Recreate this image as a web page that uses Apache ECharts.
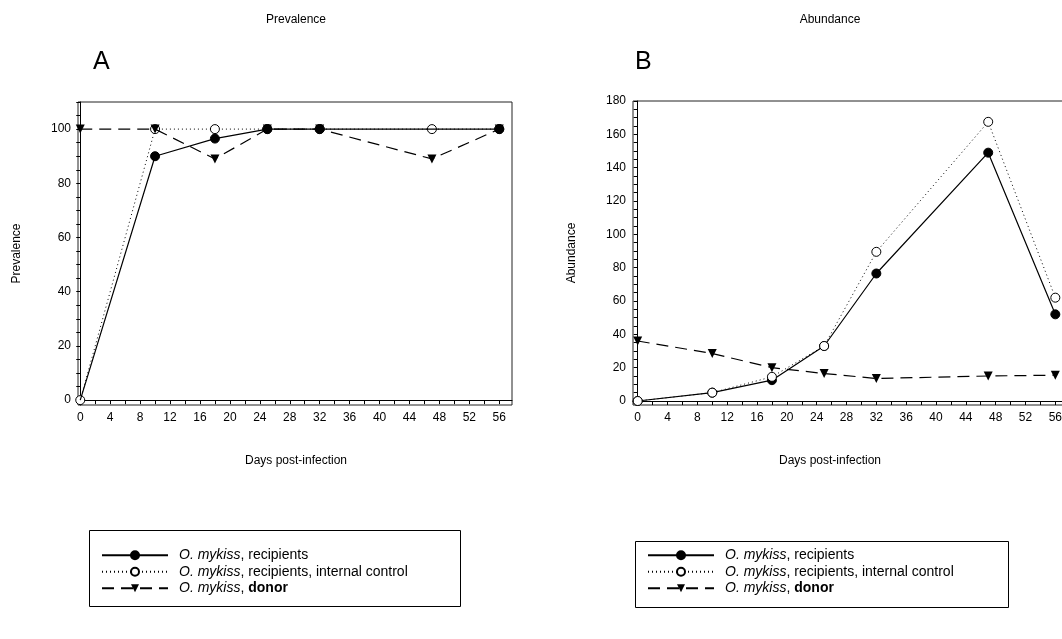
<!DOCTYPE html>
<html>
<head>
<meta charset="utf-8">
<script src="https://cdn.jsdelivr.net/npm/echarts@6/dist/echarts.min.js"></script>
<style>
  html, body { margin: 0; background: #fff; }
  #main { width: 1062px; height: 639px; }
</style>
</head>
<body>
<div id="main"></div>
<script>
// sampling days (post-infection)
var days = [0, 10, 18, 25, 32, 47, 56];

// A - prevalence (%)
var prevRecipients = [0, 90, 96.5, 100, 100, 100, 100];
var prevControl    = [0, 100, 100, 100, 100, 100, 100];
var prevDonor      = [100, 100, 89, 100, 100, 89, 100];

// B - abundance
var abunRecipients = [0, 5, 12.5, 33, 76.5, 149, 52];
var abunControl    = [0, 5, 14.5, 33, 89.5, 167.5, 62];
var abunDonor      = [36, 28.5, 20, 16.5, 13.5, 15, 15.5];

// tick labels
var xLabels  = [0, 4, 8, 12, 16, 20, 24, 28, 32, 36, 40, 44, 48, 52, 56];
var yLabelsA = [0, 20, 40, 60, 80, 100];
var yLabelsB = [0, 20, 40, 60, 80, 100, 120, 140, 160, 180];

var FONT = 'Liberation Sans';

function pairs(vals) {
  return days.map(function (d, i) { return [d, vals[i]]; });
}

function ticks(from, to, step) {
  var out = [];
  for (var v = from; v <= to; v += step) out.push(v);
  return out;
}

function xAxis(gi, min) {
  return {
    type: 'value', gridIndex: gi, min: min, max: 57.7,
    axisLine: { show: true, lineStyle: { color: '#000', width: 1 } },
    axisTick: { show: true, length: 4, customValues: ticks(0, 56, 2), lineStyle: { color: '#000' } },
    axisLabel: { customValues: xLabels, color: '#000', fontFamily: FONT, fontSize: 12, margin: 7 },
    splitLine: { show: false }
  };
}

function yAxis(gi, min, max, labels, name) {
  return {
    type: 'value', gridIndex: gi, min: min, max: max,
    name: name, nameLocation: 'middle', nameGap: 55,
    nameTextStyle: { color: '#000', fontFamily: FONT, fontSize: 12 },
    axisLine: { show: true, lineStyle: { color: '#000', width: 1 } },
    axisTick: { show: true, length: 4, customValues: ticks(0, max, 5), lineStyle: { color: '#000' } },
    axisLabel: { customValues: labels, color: '#000', fontFamily: FONT, fontSize: 12, margin: 7 },
    splitLine: { show: false }
  };
}

// hidden marks: days where the filled circle sits under the open one in panel A
var hiddenA = [0, 47];

function recipients(gi, vals, z, hidden) {
  return {
    name: 'recipients', type: 'line', xAxisIndex: gi, yAxisIndex: gi, z: z,
    data: pairs(vals),
    symbol: function (v) { return hidden.indexOf(v[0]) >= 0 ? 'none' : 'circle'; },
    symbolSize: 9,
    lineStyle: { color: '#000', width: 1.2, type: 'solid' },
    itemStyle: { color: '#000', borderColor: '#000', borderWidth: 1 }
  };
}

function control(gi, vals, z) {
  return {
    name: 'control', type: 'line', xAxisIndex: gi, yAxisIndex: gi, z: z,
    data: pairs(vals),
    symbol: 'circle', symbolSize: 9,
    lineStyle: { color: '#000', width: 1, type: [1, 3] },
    itemStyle: { color: '#fff', borderColor: '#000', borderWidth: 1 }
  };
}

function donor(gi, vals, z) {
  return {
    name: 'donor', type: 'line', xAxisIndex: gi, yAxisIndex: gi, z: z,
    data: pairs(vals),
    symbol: 'triangle', symbolRotate: 180, symbolSize: 9,
    lineStyle: { color: '#000', width: 1.2, type: [12, 7] },
    itemStyle: { color: '#000' }
  };
}

var legendText = {
  recipients: '{s|}{i|O. mykiss}, recipients',
  control: '{s|}{i|O. mykiss}, recipients, internal control',
  donor: '{s|}{i|O. mykiss}, {b|donor}'
};

function legend(left, top) {
  return {
    left: left, top: top, orient: 'vertical',
    data: ['recipients', 'control', 'donor'],
    itemWidth: 66, itemHeight: 10, itemGap: 0,
    selectedMode: false,
    formatter: function (n) { return legendText[n]; },
    textStyle: {
      color: '#000', fontFamily: FONT, fontSize: 14, lineHeight: 16.5,
      rich: {
        s: { width: 6 },
        i: { fontStyle: 'italic', fontFamily: FONT, fontSize: 14 },
        b: { fontWeight: 'bold', fontFamily: FONT, fontSize: 14 }
      }
    }
  };
}

function label(x, y, text, size, rot) {
  return {
    type: 'text', x: x, y: y, rotation: rot || 0,
    style: { text: text, fill: '#000', font: size + 'px "' + FONT + '"', textAlign: 'center', textVerticalAlign: 'middle' }
  };
}

var chart = echarts.init(document.getElementById('main'));
chart.setOption({
  animation: false,
  backgroundColor: '#fff',
  grid: [
    { left: 78, top: 102, width: 434, height: 303, show: true, borderColor: '#222', borderWidth: 1, outerBoundsMode: 'none' },
    { left: 633, top: 101, width: 435, height: 304, show: true, borderColor: '#222', borderWidth: 1, outerBoundsMode: 'none' }
  ],
  xAxis: [xAxis(0, -0.3), xAxis(1, -0.63)],
  yAxis: [yAxis(0, -1.8, 110, yLabelsA, 'Prevalence'), yAxis(1, -2.4, 180, yLabelsB, 'Abundance')],
  legend: [legend(96, 542), legend(642, 542)],
  graphic: [
    label(296, 20, 'Prevalence', 12),
    label(830, 20, 'Abundance', 12),
    { type: 'text', left: 93, top: 50, style: { text: 'A', fill: '#000', font: '25px "' + FONT + '"' } },
    { type: 'text', left: 635, top: 50, style: { text: 'B', fill: '#000', font: '25px "' + FONT + '"' } },
    label(296, 461, 'Days post-infection', 12),
    label(830, 461, 'Days post-infection', 12),
    { type: 'rect', shape: { x: 89.5, y: 530.5, width: 371, height: 76 }, style: { fill: 'none', stroke: '#000', lineWidth: 1 }, z: -1 },
    { type: 'rect', shape: { x: 635.5, y: 541.5, width: 373, height: 66 }, style: { fill: 'none', stroke: '#000', lineWidth: 1 }, z: -1 }
  ],
  series: [
    control(0, prevControl, 2),
    recipients(0, prevRecipients, 3, hiddenA),
    donor(0, prevDonor, 4),
    recipients(1, abunRecipients, 2, []),
    control(1, abunControl, 3),
    donor(1, abunDonor, 4)
  ]
});
</script>
</body>
</html>
